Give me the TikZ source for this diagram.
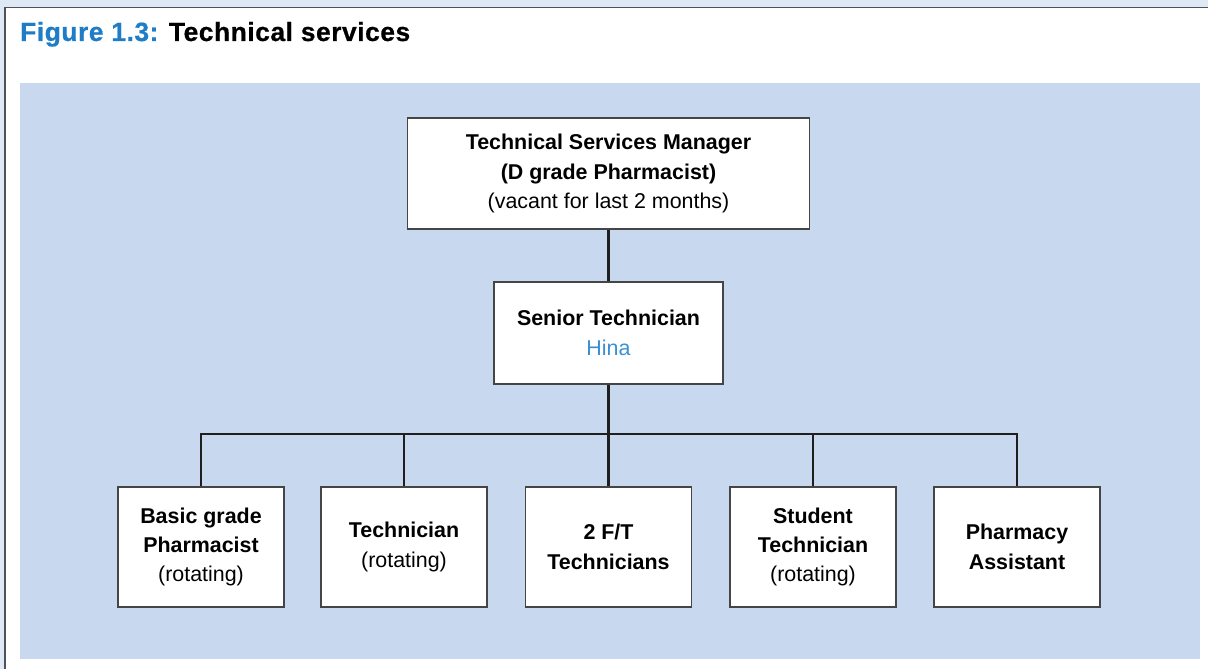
\documentclass[tikz,border=0pt]{standalone}
\usepackage{fontspec}
\setmainfont{Liberation Sans}
\newfontfamily\titlefont[FakeBold=0.6,LetterSpace=2]{Liberation Sans Bold}
\definecolor{stripblue}{HTML}{DFE8F5}
\definecolor{panelblue}{HTML}{C8D8EF}
\definecolor{titleblue}{HTML}{1E7DC6}
\definecolor{hinablue}{HTML}{3A90D2}
\definecolor{framegray}{HTML}{505258}
\definecolor{boxgray}{HTML}{454545}
\tikzset{
  orgbox/.style={draw=boxgray, line width=1.5bp, fill=white, align=center, inner sep=0pt,
    font=\fontsize{21.5}{29.5}\selectfont},
  bottombox/.style={orgbox, minimum width=166bp, minimum height=120bp},
  link/.style={draw=black!88, line width=2.2bp}
}
\begin{document}
\begin{tikzpicture}[x=1bp,y=-1bp]
\useasboundingbox (0,0) rectangle (1208,669);
\fill[stripblue] (0,0) rectangle (1208,669);
\fill[white] (5,8) rectangle (1208,669);
\draw[framegray, line width=1.6bp] (5,669) -- (5,7.5) -- (1208,7.5);
\fill[panelblue] (20,83) rectangle (1200,659);
\node[anchor=base west, inner sep=0pt, font=\titlefont\fontsize{26.5}{30}\selectfont] (title) at (20,41)
  {\textcolor{titleblue}{Figure 1.3:} Technical services};
\node[orgbox, minimum width=402bp, minimum height=111bp] (tsm) at (608.5,173.5)
  {\textbf{Technical Services Manager}\\ \textbf{(D grade Pharmacist)}\\ (vacant for last 2 months)};
\node[orgbox, minimum width=229bp, minimum height=102bp] (sen) at (608.5,333)
  {\textbf{Senior Technician}\\ \textcolor{hinablue}{Hina}};
\node[bottombox] (b1) at (201,547) {\textbf{Basic grade}\\ \textbf{Pharmacist}\\ (rotating)};
\node[bottombox] (b2) at (404,547) {\textbf{Technician}\\ (rotating)};
\node[bottombox] (b3) at (608.5,547) {\textbf{2 F/T}\\ \textbf{Technicians}};
\node[bottombox] (b4) at (813,547) {\textbf{Student}\\ \textbf{Technician}\\ (rotating)};
\node[bottombox] (b5) at (1017,547) {\textbf{Pharmacy}\\ \textbf{Assistant}};
\coordinate (bus) at (608.5,434);
\draw[link] (tsm.south) -- (sen.north);
\draw[link] (sen.south) -- (sen.south|-bus);
\draw[link] (b1.north) -- (b1.north|-bus) -- (b5.north|-bus) -- (b5.north);
\draw[link] (b2.north) -- (b2.north|-bus);
\draw[link] (b3.north) -- (b3.north|-bus);
\draw[link] (b4.north) -- (b4.north|-bus);
\end{tikzpicture}
\end{document}
